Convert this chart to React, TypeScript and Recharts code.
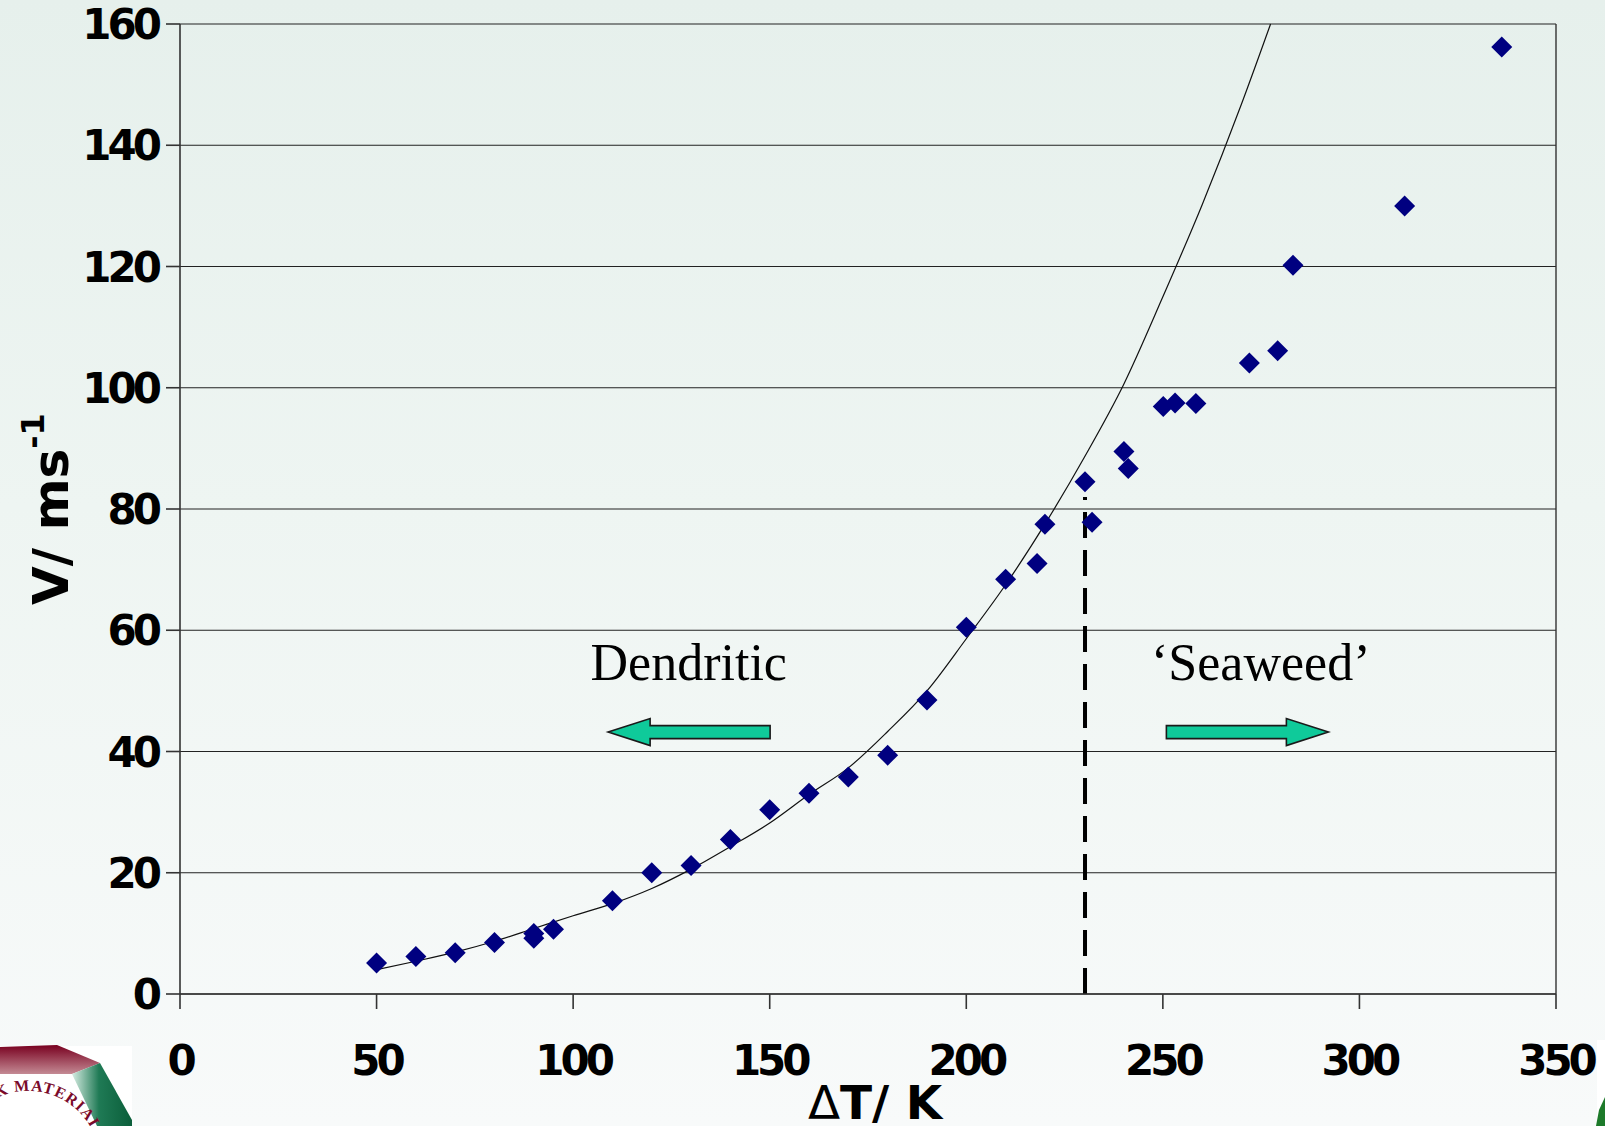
import { ComposedChart, Scatter, Line, XAxis, YAxis, CartesianGrid, ReferenceLine, ReferenceDot } from "recharts";

// measured points: undercooling (K) vs growth velocity (m/s)
const deltaT = [
  50, 60, 70, 80, 90, 90, 95, 110, 120, 130, 140, 150, 160, 170, 180, 190, 200, 210, 218, 220,
  230.2, 232, 240.1, 241.2, 250.1, 253.1, 258.4, 272, 279.2, 283.1, 311.5, 336.2,
];
const velocity = [
  5.1, 6.2, 6.8, 8.5, 9.2, 10.0, 10.7, 15.4, 20.0, 21.2, 25.5, 30.4, 33.1, 35.8, 39.4, 48.5, 60.5, 68.4, 71.0, 77.5,
  84.5, 77.8, 89.5, 86.7, 96.9, 97.5, 97.4, 104.1, 106.1, 120.2, 130.0, 156.2,
];

// fitted curve
const fitT = [50, 60, 70, 80, 90, 100, 110, 120, 130, 140, 150, 160, 170, 180, 190, 200, 210, 220, 230, 240, 250, 260, 270, 277.4];
const fitV = [4.0, 5.4, 6.9, 8.7, 10.8, 12.9, 14.9, 17.4, 20.6, 24.3, 28.2, 32.9, 37.3, 43.3, 50.0, 58.6, 67.5, 77.5, 88.5, 100.5, 115, 130.2, 146.8, 160];

const xTicks = [0, 50, 100, 150, 200, 250, 300, 350];
const yTicks = [0, 20, 40, 60, 80, 100, 120, 140, 160];

const boundaryT = 230.2;
const boundaryTop = 82;

const regionLabels = [
  { x: 129.4, y: 51.8, text: "Dendritic" },
  { x: 274.9, y: 51.8, text: "‘Seaweed’" },
];
const regionArrows = [
  { x: 129.5, y: 43.2, dir: -1 },
  { x: 271.5, y: 43.2, dir: 1 },
];

const points = deltaT.map((t, i) => ({ x: t, y: velocity[i] }));
const fit = fitT.map((t, i) => ({ x: t, y: fitV[i] }));

const tickFont = { fontFamily: "DejaVu Sans", fontWeight: "bold", fontSize: 42, letterSpacing: -4, fill: "#000" };

const XTick = ({ x, y, payload }: any) => (
  <text x={x} y={y} dy="0.72em" textAnchor="middle" {...tickFont}>
    {payload.value}
  </text>
);

const YTick = ({ x, y, payload }: any) => (
  <text x={x} y={y} dy="0.36em" textAnchor="end" {...tickFont}>
    {payload.value}
  </text>
);

const Diamond = ({ cx, cy }: any) => {
  const r = 10.5;
  return <path d={`M${cx},${cy - r}L${cx + r},${cy}L${cx},${cy + r}L${cx - r},${cy}Z`} fill="#000080" />;
};

const XTitle = ({ viewBox }: any) => {
  const cx = viewBox.x + viewBox.width / 2 + 7;
  return (
    <text x={cx} y={1119} textAnchor="middle" fontFamily="DejaVu Sans" fontSize={47} fontWeight="bold" fill="#000">
      <tspan fontWeight="normal">Δ</tspan>T/ K
    </text>
  );
};

const YTitle = ({ viewBox }: any) => {
  const cy = viewBox.y + viewBox.height / 2;
  return (
    <text
      x={68}
      y={cy}
      transform={`rotate(-90, 68, ${cy})`}
      textAnchor="middle"
      fontFamily="DejaVu Sans"
      fontSize={50}
      fontWeight="bold"
      fill="#000"
    >
      V/ ms
      <tspan fontSize={32} dy={-24}>-1</tspan>
    </text>
  );
};

const Arrow = ({ cx, cy, dir }: any) => {
  const half = 81;
  const head = 42;
  const hw = 13.5;
  const sw = 6.5;
  const p = (dx: number, dy: number) => `${cx + dir * dx},${cy + dy}`;
  const d = `M${p(-half, -sw)}L${p(half - head, -sw)}L${p(half - head, -hw)}L${p(half, 0)}L${p(half - head, hw)}L${p(half - head, sw)}L${p(-half, sw)}Z`;
  return <path d={d} fill="#0fca9a" stroke="#1a1a1a" strokeWidth={1.6} />;
};

const Logo = () => (
  <svg width={1605} height={1126} style={{ position: "absolute", left: 0, top: 0, pointerEvents: "none" }}>
    <defs>
      <linearGradient id="maroon" x1="0" y1="0" x2="0" y2="1">
        <stop offset="0" stopColor="#78001f" />
        <stop offset="1" stopColor="#c48a94" />
      </linearGradient>
      <linearGradient id="green" x1="1" y1="0" x2="0" y2="0">
        <stop offset="0" stopColor="#0b5e3a" />
        <stop offset="0.55" stopColor="#1f7a55" />
        <stop offset="1" stopColor="#d6ece2" />
      </linearGradient>
      <path id="arc" d="M-13.3,1104 A72,72 0 0 1 95.7,1138.4" />
    </defs>
    <rect x={0} y={1046} width={132} height={80} fill="#fff" />
    <polygon points="0,1047 57,1045 100,1063 72,1074 0,1074" fill="url(#maroon)" />
    <polygon points="72,1074 100,1063 132,1120 132,1126 97,1126" fill="url(#green)" />
    <text fontFamily="Liberation Serif" fontWeight="bold" fontSize={16} fill="#7a0a2a" letterSpacing={1}>
      <textPath href="#arc" startOffset="12">K MATERIALS</textPath>
    </text>
    <rect x={1597} y={1040} width={8} height={86} fill="#fff" />
    <polygon points="1596,1126 1599,1110 1605,1097 1605,1126" fill="#1d7a2a" />
  </svg>
);

export default function App() {
  return (
    <div
      style={{
        position: "absolute",
        left: 0,
        top: 0,
        width: 1605,
        height: 1126,
        background: "linear-gradient(to bottom, #e6f0ec 0%, #eef5f2 45%, #f8fafa 100%)",
      }}
    >
      <ComposedChart width={1605} height={1126} margin={{ top: 24, right: 49, bottom: 0, left: 0 }}>
        <CartesianGrid vertical={false} stroke="#222" strokeWidth={1.2} />
        <XAxis
          type="number"
          dataKey="x"
          domain={[0, 350]}
          ticks={xTicks}
          height={132}
          tickSize={15}
          tickMargin={36}
          stroke="#333"
          strokeWidth={1.6}
          tick={<XTick />}
          label={{ content: XTitle }}
        />
        <YAxis
          type="number"
          dataKey="y"
          domain={[0, 160]}
          ticks={yTicks}
          width={180}
          tickSize={14}
          tickMargin={8}
          stroke="#333"
          strokeWidth={1.6}
          tick={<YTick />}
          label={{ content: YTitle }}
        />
        <ReferenceLine x={350} stroke="#333" strokeWidth={1.4} />
        <ReferenceLine
          segment={[
            { x: boundaryT, y: 0 },
            { x: boundaryT, y: boundaryTop },
          ]}
          stroke="#000"
          strokeWidth={4}
          strokeDasharray="26 12"
        />
        <Line
          data={fit}
          dataKey="y"
          type="monotone"
          stroke="#111"
          strokeWidth={1.2}
          dot={false}
          activeDot={false}
          isAnimationActive={false}
        />
        <Scatter data={points} dataKey="y" shape={<Diamond />} isAnimationActive={false} />
        {regionLabels.map((l) => (
          <ReferenceDot
            key={l.text}
            x={l.x}
            y={l.y}
            r={0}
            shape={({ cx, cy }: any) => (
              <text x={cx} y={cy} textAnchor="middle" fontFamily="Liberation Serif" fontSize={52} fill="#000">
                {l.text}
              </text>
            )}
          />
        ))}
        {regionArrows.map((a) => (
          <ReferenceDot key={a.dir} x={a.x} y={a.y} r={0} shape={(p: any) => <Arrow cx={p.cx} cy={p.cy} dir={a.dir} />} />
        ))}
      </ComposedChart>
      <Logo />
    </div>
  );
}
